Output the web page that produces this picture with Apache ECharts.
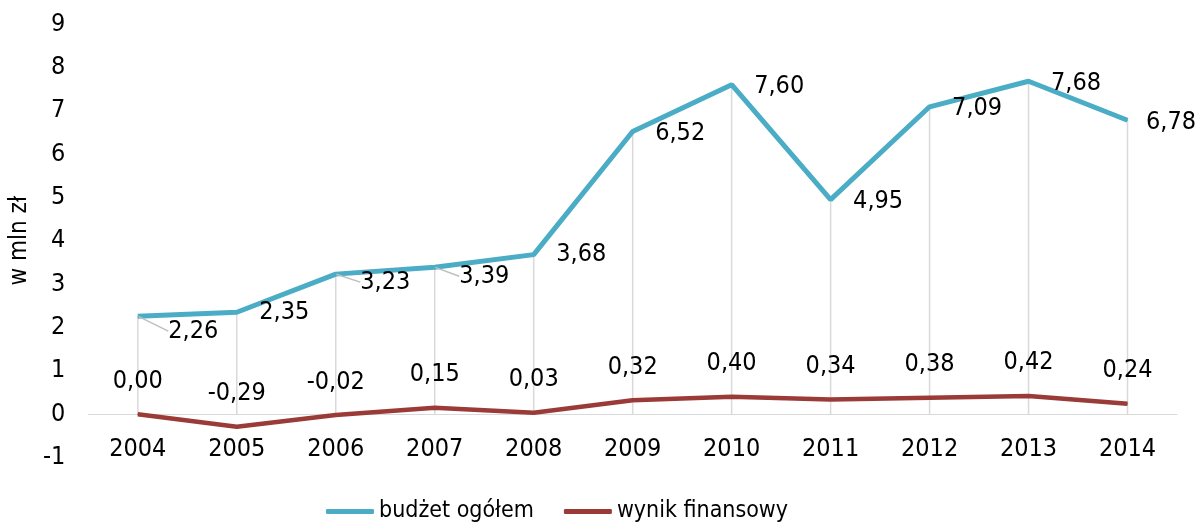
<!DOCTYPE html>
<html>
<head>
<meta charset="utf-8">
<script src="https://cdn.jsdelivr.net/npm/echarts@6/dist/echarts.min.js"></script>
<style>
  html, body { margin: 0; padding: 0; background: #fff; }
  #chart { width: 1199px; height: 523px; }
</style>
</head>
<body>
<div id="chart"></div>
<script>
// ---- data ----
const years = ['2004', '2005', '2006', '2007', '2008', '2009', '2010', '2011', '2012', '2013', '2014'];
const budzetOgolem = [2.26, 2.35, 3.23, 3.39, 3.68, 6.52, 7.60, 4.95, 7.09, 7.68, 6.78];
const wynikFinansowy = [0.00, -0.29, -0.02, 0.15, 0.03, 0.32, 0.40, 0.34, 0.38, 0.42, 0.24];
const seriesNames = ['budżet ogółem', 'wynik finansowy'];
const yTicks = { min: -1, max: 9, interval: 1 };

// ---- styling ----
const FONT = "'DejaVu Sans Condensed', 'DejaVu Sans', sans-serif";
const BLUE = '#4BACC6';
const RED = '#9A3B38';
const GRAY = '#D9D9D9';
// label nudges (dx, dy) for the budget labels, indexed by year position
const blueNudge = [[8, 15], [0, 0], [2, 8], [2, 9], [0, 0], [0, 2], [0, 2], [0, 2], [0, 2], [0, 2], [-4, 2]];
const withLeader = [true, false, true, true, false, false, false, false, false, false, false];

const fmt = v => v.toFixed(2).replace('.', ',');

const chart = echarts.init(document.getElementById('chart'), null, { renderer: 'canvas' });
chart.setOption({
  animation: false,
  backgroundColor: '#fff',
  textStyle: { fontFamily: FONT },
  grid: { left: 86, right: 22, top: 24, bottom: 65.5, containLabel: false },
  legend: {
    data: seriesNames,
    left: 321,
    top: 495,
    icon: 'roundRect',
    itemWidth: 48,
    itemHeight: 5,
    itemGap: 30,
    textStyle: { fontFamily: FONT, fontSize: 23, color: '#000' }
  },
  xAxis: {
    type: 'category',
    data: years,
    boundaryGap: true,
    axisLine: { show: true, onZero: true, lineStyle: { color: GRAY, width: 1 } },
    axisTick: { show: false },
    axisLabel: { fontFamily: FONT, fontSize: 25, color: '#000', margin: -21 },
    splitLine: { show: false }
  },
  yAxis: {
    type: 'value',
    min: yTicks.min,
    max: yTicks.max,
    interval: yTicks.interval,
    name: 'w mln zł',
    nameLocation: 'middle',
    nameGap: 46,
    nameTextStyle: { fontFamily: FONT, fontSize: 24, color: '#000' },
    axisLine: { show: false },
    axisTick: { show: false },
    splitLine: { show: false },
    axisLabel: { fontFamily: FONT, fontSize: 25, color: '#000', margin: 23 }
  },
  series: [
    {
      name: 'dropLines',
      type: 'bar',
      data: budzetOgolem,
      barWidth: 1.5,
      silent: true,
      itemStyle: { color: GRAY },
      z: 1
    },
    {
      name: seriesNames[0],
      type: 'line',
      data: budzetOgolem.map((v, i) => ({
        value: v,
        labelLine: { show: withLeader[i] }
      })),
      symbol: 'circle',
      symbolSize: 1,
      showSymbol: true,
      lineStyle: { color: BLUE, width: 5 },
      itemStyle: { color: BLUE },
      z: 3,
      label: {
        show: true,
        position: 'right',
        distance: 22,
        fontFamily: FONT,
        fontSize: 25,
        color: '#000',
        formatter: p => fmt(p.value)
      },
      labelLine: { lineStyle: { color: '#BFBFBF', width: 1.5 } },
      labelLayout: p => ({ dx: blueNudge[p.dataIndex][0], dy: blueNudge[p.dataIndex][1] })
    },
    {
      name: seriesNames[1],
      type: 'line',
      data: wynikFinansowy,
      symbol: 'circle',
      symbolSize: 1,
      showSymbol: true,
      lineStyle: { color: RED, width: 4.5 },
      itemStyle: { color: RED },
      z: 3,
      label: {
        show: true,
        position: 'top',
        distance: 20,
        fontFamily: FONT,
        fontSize: 25,
        color: '#000',
        formatter: p => fmt(p.value)
      }
    }
  ]
});
</script>
</body>
</html>
